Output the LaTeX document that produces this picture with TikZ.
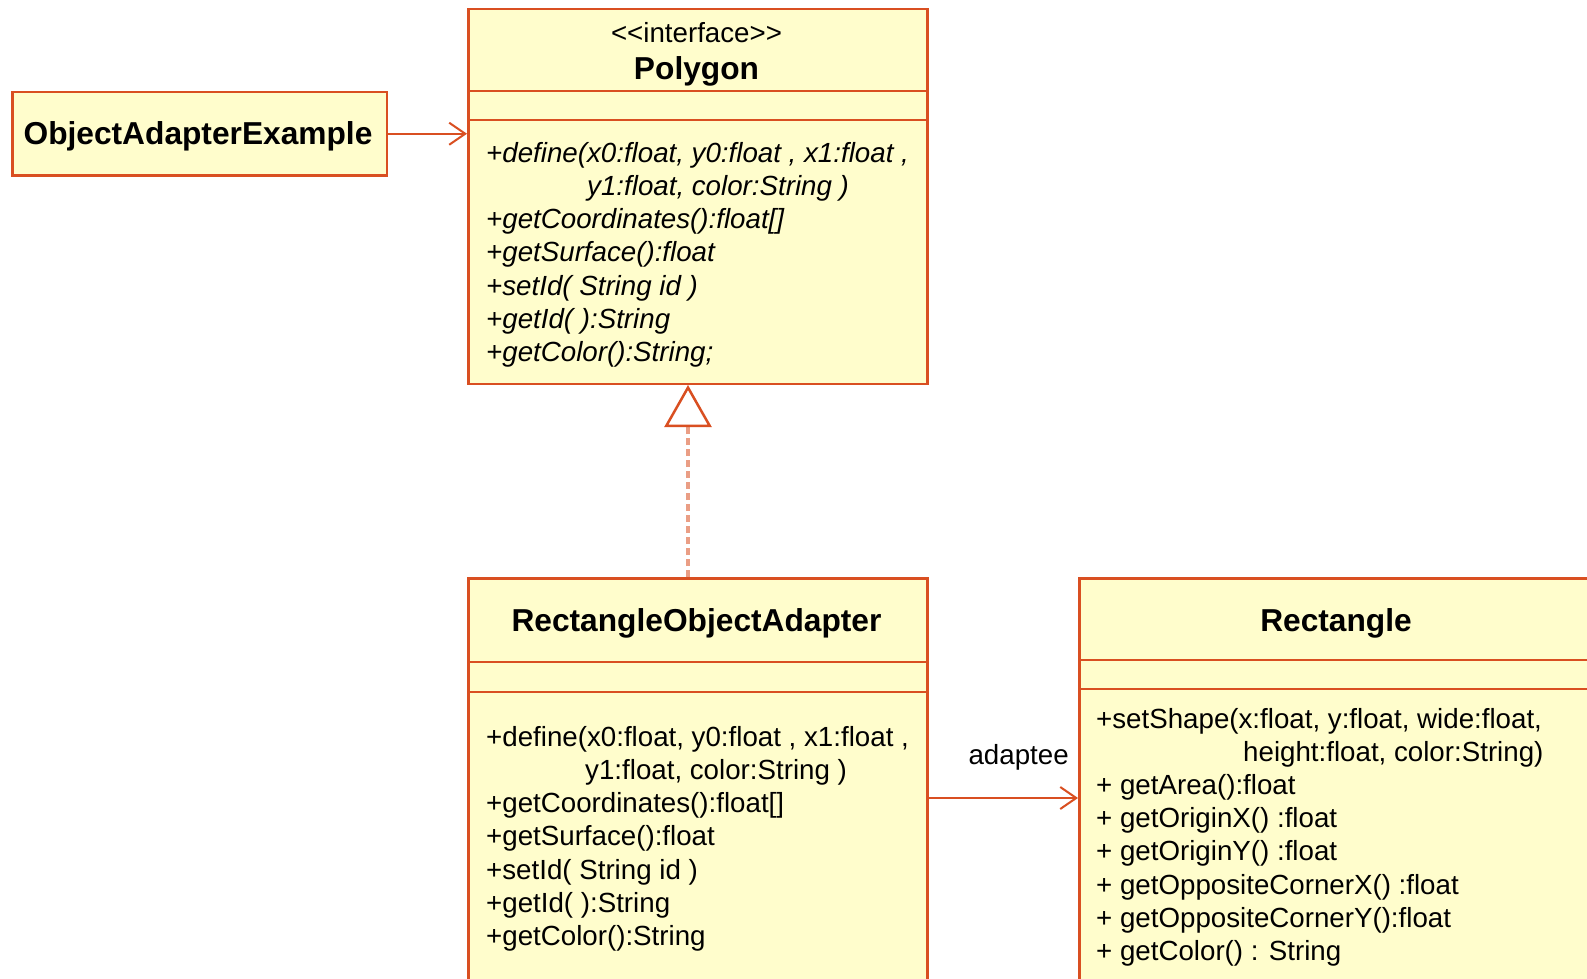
\documentclass[tikz,border=0pt]{standalone}
\usepackage{fontspec}
\setmainfont{Liberation Sans}
\usetikzlibrary{arrows.meta,calc}
\definecolor{umlline}{HTML}{D94F21}
\definecolor{umlfill}{HTML}{FFFDCC}
\begin{document}
\begin{tikzpicture}[x=1pt,y=-1pt,
  classbox/.style={draw=umlline, fill=umlfill, line width=2.5pt, inner sep=0pt, anchor=north west},
  divider/.style={draw=umlline, line width=2.5pt},
  member/.style={anchor=base west, inner sep=0pt, font=\fontsize{27.7}{33.3}\selectfont},
  imember/.style={anchor=base west, inner sep=0pt, font=\fontsize{27.7}{33.3}\selectfont\itshape},
  stereo/.style={anchor=base, inner sep=0pt, font=\fontsize{27.7}{33.3}\selectfont},
  classname/.style={anchor=base, inner sep=0pt, font=\fontsize{31.7}{36}\selectfont\bfseries},
  assoc/.style={draw=umlline, line width=2pt, -{Straight Barb[length=16pt,width=22pt,line width=2pt]}},
  realize/.style={draw=umlline!55, line width=3.5pt, dash pattern=on 7pt off 4pt,
    -{Triangle[open, length=42pt, width=47pt, line width=2.5pt, color=umlline]}}]

\useasboundingbox (0,0) rectangle (1587,979);
\fill[white] (0,0) rectangle (1587,979);
\clip (0,0) rectangle (1587,979);

% client class
\node[classbox, minimum width=374.6pt, minimum height=83pt] (oae) at (11,91) {};
\node[classname] (oaename) at (198,144.5) {ObjectAdapterExample};

% target interface
\node[classbox, minimum width=459pt, minimum height=374.5pt] (poly) at (467,8) {};
\draw[divider] (poly.west |- 0,91) -- (poly.east |- 0,91);
\draw[divider] (poly.west |- 0,120) -- (poly.east |- 0,120);
\node[stereo] (polystereo) at (696.5,43) {{<}{<}interface{>}{>}};
\node[classname] (polyname) at (696.5,80) {Polygon};
\node[imember] (pm1) at (486,162) {+define(x0:float, y0:float , x1:float ,};
\node[imember] (pm2) at (587,195.3) {y1:float, color:String )};
\node[imember] (pm3) at (486,228.6) {+getCoordinates():float[]};
\node[imember] (pm4) at (486,261.9) {+getSurface():float};
\node[imember] (pm5) at (486,295.2) {+setId( String id )};
\node[imember] (pm6) at (486,328.5) {+getId( ):String};
\node[imember] (pm7) at (486,361.8) {+getColor():String;};

% adapter class
\node[classbox, minimum width=459pt, minimum height=413pt] (roa) at (467,577) {};
\draw[divider] (roa.west |- 0,662) -- (roa.east |- 0,662);
\draw[divider] (roa.west |- 0,692) -- (roa.east |- 0,692);
\node[classname] (roaname) at (696.5,631.5) {RectangleObjectAdapter};
\node[member] (rm1) at (486,746) {+define(x0:float, y0:float , x1:float ,};
\node[member] (rm2) at (585,779.3) {y1:float, color:String )};
\node[member] (rm3) at (486,812.6) {+getCoordinates():float[]};
\node[member] (rm4) at (486,845.9) {+getSurface():float};
\node[member] (rm5) at (486,879.2) {+setId( String id )};
\node[member] (rm6) at (486,912.5) {+getId( ):String};
\node[member] (rm7) at (486,945.8) {+getColor():String};

% adaptee class
\node[classbox, minimum width=515pt, minimum height=413pt] (rect) at (1078,577) {};
\draw[divider] (rect.west |- 0,660) -- (rect.east |- 0,660);
\draw[divider] (rect.west |- 0,689) -- (rect.east |- 0,689);
\node[classname] (rectname) at (1336,631.5) {Rectangle};
\node[member] (qm1) at (1096,728) {+setShape(x:float, y:float, wide:float,};
\node[member] (qm2) at (1243,761.2) {height:float, color:String)};
\node[member] (qm3) at (1096,794.4) {+ getArea():float};
\node[member] (qm4) at (1096,827.6) {+ getOriginX() :float};
\node[member] (qm5) at (1096,860.8) {+ getOriginY() :float};
\node[member] (qm6) at (1096,894) {+ getOppositeCornerX() :float};
\node[member] (qm7) at (1096,927.2) {+ getOppositeCornerY():float};
\node[member] (qm8) at (1096,960.4) {+ getColor() : String};

% relations
\draw[assoc] (oae.east) -- (poly.west |- oae.east);
\draw[realize] (roa.north -| 688,0) -- (poly.south -| 688,0);
\draw[assoc] (roa.east |- 0,798) -- (rect.west |- 0,798);
\node[stereo] (adaptee) at (1018.6,764) {adaptee};
\end{tikzpicture}
\end{document}
